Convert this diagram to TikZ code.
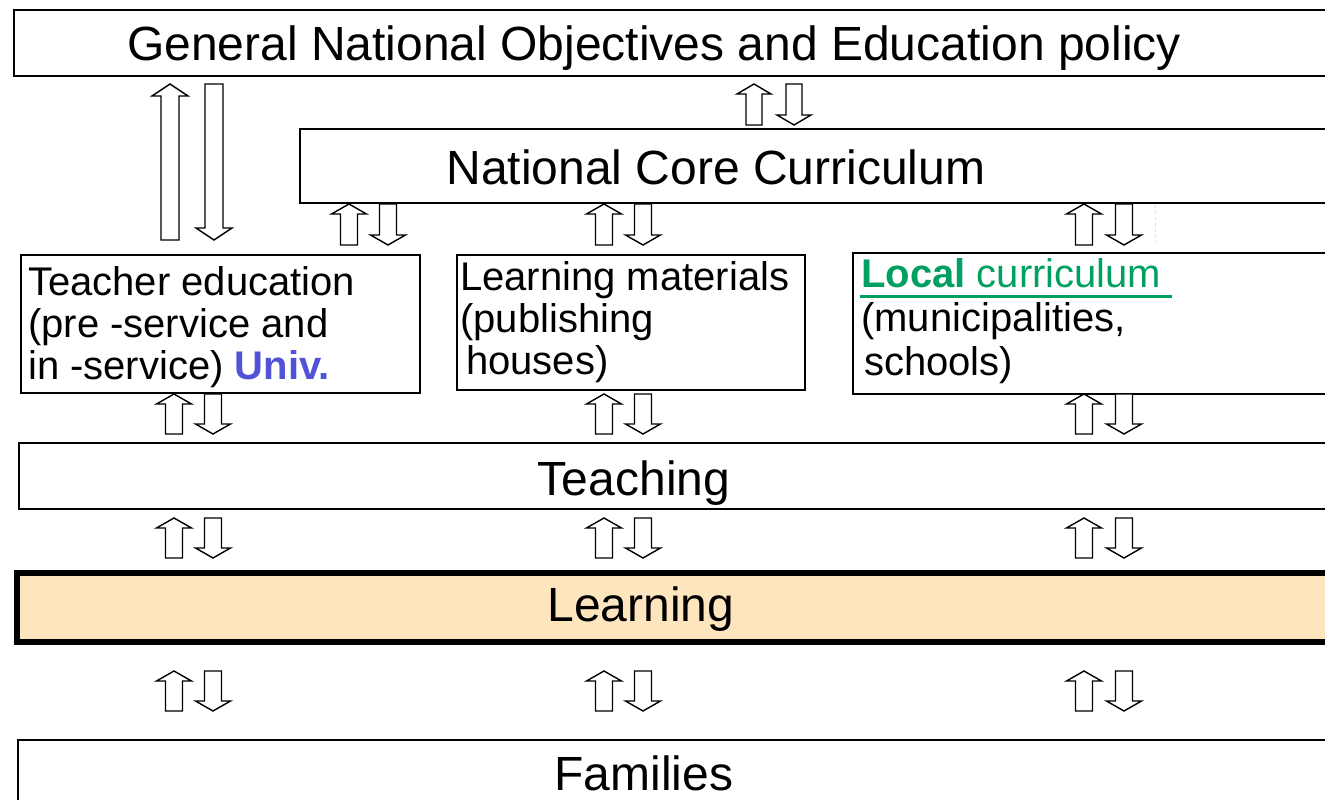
\documentclass[tikz,border=0pt]{standalone}
\usepackage{fontspec}
\setmainfont{Liberation Sans}

\definecolor{localgreen}{RGB}{0,160,96}
\definecolor{univblue}{RGB}{82,82,214}
\definecolor{learnfill}{RGB}{253,229,189}

% pair of block arrows: up centre, down centre, top, bottom, half shaft, half head, head length
\newcommand{\arrowpair}[7]{%
  \draw[blockarrow] (#1,#3) -- (#1+#6,#3+#7) -- (#1+#5,#3+#7) -- (#1+#5,#4)
    -- (#1-#5,#4) -- (#1-#5,#3+#7) -- (#1-#6,#3+#7) -- cycle;
  \draw[blockarrow] (#2,#4) -- (#2+#6,#4-#7) -- (#2+#5,#4-#7) -- (#2+#5,#3)
    -- (#2-#5,#3) -- (#2-#5,#4-#7) -- (#2-#6,#4-#7) -- cycle;
}

\begin{document}
\begin{tikzpicture}[
    x=1pt, y=-1pt,
    box/.style={draw, line width=1.6pt, inner sep=0pt, anchor=north west},
    bigtext/.style={font=\fontsize{48}{56}\selectfont, inner sep=0pt, anchor=base},
    smalltext/.style={font=\fontsize{40}{42}\selectfont, inner sep=0pt, anchor=base west},
    blockarrow/.style={draw, line width=1.4pt, fill=white}
]
\useasboundingbox (0,0) rectangle (1325,800);
\clip (0,0) rectangle (1325,800);

% levels (running out at the right edge)
\node[box, line width=2pt, minimum width=1340pt, minimum height=66pt] (goals) at (13,9) {};
\node[box, minimum width=1050pt, minimum height=74pt] (core) at (299,128) {};
\node[box, minimum width=399pt, minimum height=138pt] (teachered) at (20,254) {};
\node[box, minimum width=348pt, minimum height=135pt] (materials) at (456,254) {};
\node[box, minimum width=500pt, minimum height=141pt] (local) at (852,252) {};
\node[box, minimum width=1340pt, minimum height=66pt] (teaching) at (18,442) {};
\node[box, line width=6pt, fill=learnfill, minimum width=1340pt, minimum height=69pt] (learning) at (14,570) {};
\node[box, minimum width=1340pt, minimum height=100pt] (families) at (17,739) {};

% texts
\node[bigtext] (goalslabel) at (654,61) {General National Objectives and Education policy};
\node[bigtext] (corelabel) at (716,184) {National Core Curriculum};
\node[bigtext] (teachinglabel) at (634,495) {Teaching};
\node[bigtext] (learninglabel) at (641,621) {Learning};
\node[bigtext] (familieslabel) at (644,790) {Families};

\node[smalltext] (teacheredlabel) at (28,295) {\begin{tabular}[t]{@{}l@{}}
Teacher education \\
(pre -service and \\
in -service) \textcolor{univblue}{\textbf{Univ.}}
\end{tabular}};
\node[smalltext] (materialslabel) at (460,290) {\begin{tabular}[t]{@{}l@{}}
Learning materials \\
(publishing \\
\hspace{6pt}houses)
\end{tabular}};
\node[smalltext] (locallabel) at (861,287) {\begin{tabular}[t]{@{}l@{}}
\textcolor{localgreen}{\textbf{Local} curriculum} \\[2pt]
(municipalities, \\[2pt]
\hspace{3pt}schools)
\end{tabular}};
\draw[localgreen, line width=3pt] (860,296) -- (1172,296);
\draw[gray!25, dashed, line width=0.6pt] (1155,205) -- (1155,243);

% arrows
\arrowpair{170}{214}{84}{240}{9}{18}{12}
\arrowpair{754}{794}{84}{125}{8}{17}{10}
\foreach \u/\d in {349/388, 604/643, 1084/1124}
  \arrowpair{\u}{\d}{204}{245}{8.5}{17.5}{10};
\foreach \y in {394, 518, 671}
  \foreach \u/\d in {174/213, 604/643, 1084/1124}
    \arrowpair{\u}{\d}{\y}{\y+40}{8.5}{17.5}{10};

\end{tikzpicture}
\end{document}
